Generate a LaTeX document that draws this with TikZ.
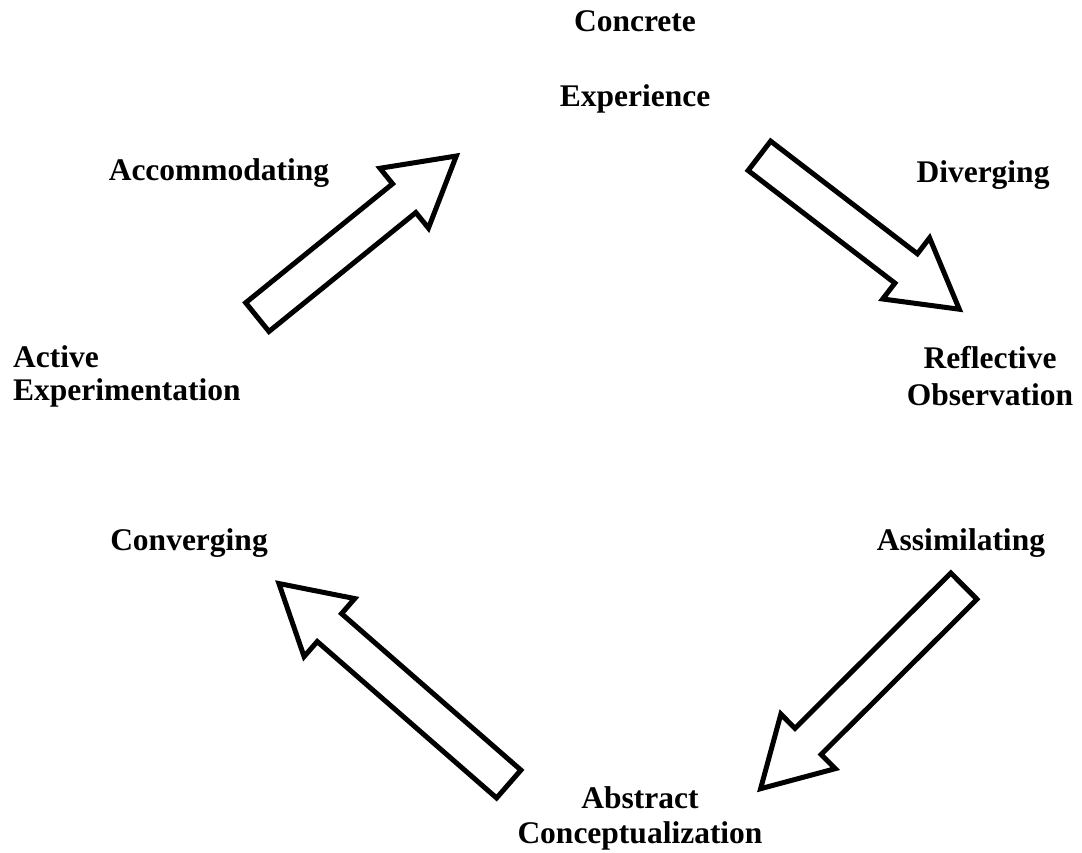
\documentclass[tikz,border=0pt]{standalone}
\usepackage{fontspec}
\setmainfont{Liberation Serif}
\usepackage{tikz}

\begin{document}
\begin{tikzpicture}[x=1pt, y=1pt,
  every node/.style={font=\bfseries\fontsize{31.5}{37}\selectfont, inner sep=0pt},
  stage/.style={align=center},
  blockarrow/.style={draw=black, fill=white, line width=5pt, line join=miter},
]
\useasboundingbox (0,0) rectangle (1082,-852);

% Learning modes (poles)
\node[stage, anchor=north] (ce) at (635,-10) {Concrete\\[38pt]Experience};
\node[stage, anchor=north] (ro) at (990,-346) {Reflective\\Observation};
\node[stage, anchor=north] (ac) at (640,-786) {Abstract\\[-2pt]Conceptualization};
\node[align=left, anchor=north west] (ae) at (13,-345) {Active\\[-4pt]Experimentation};

% Learning styles
\node[anchor=base] (acc) at (219,-180) {Accommodating};
\node[anchor=base] (div) at (983,-182) {Diverging};
\node[anchor=base] (con) at (189,-550) {Converging};
\node[anchor=base] (ass) at (961,-550) {Assimilating};

% Block arrows: tail x / tail y / angle / length
\foreach \tx/\ty/\ang/\len in {255/-319/39.0/264, 757/-154/-37.5/260,
                               966/-584/-135.1/295, 511/-786/138.9/313}
{
  \begin{scope}[shift={(\tx,\ty)}, rotate=\ang]
    \draw[blockarrow] (3,-18.5) -- ({\len-72},-18.5) -- ({\len-72},-38.5)
      -- ({\len-5},0) -- ({\len-72},38.5) -- ({\len-72},18.5) -- (3,18.5) -- cycle;
  \end{scope}
}

\end{tikzpicture}
\end{document}
